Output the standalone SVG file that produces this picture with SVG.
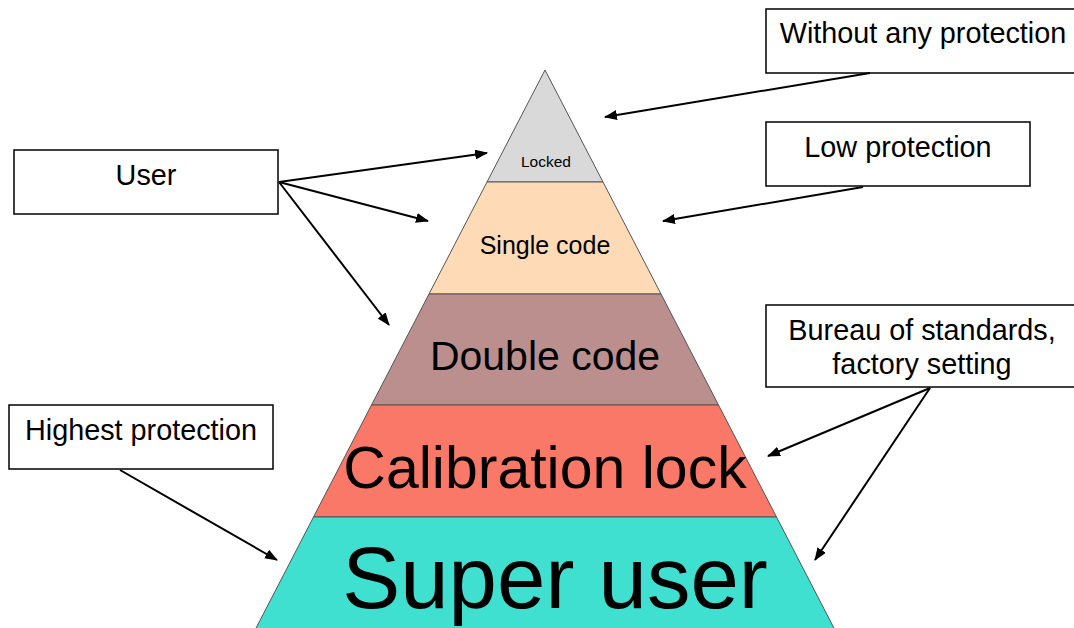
<svg xmlns="http://www.w3.org/2000/svg" width="1074" height="628" viewBox="0 0 1074 628">
<style>
.box{fill:#fff;stroke:#000;stroke-width:1.5}
.bt{font-family:"Liberation Sans",Arial,sans-serif;font-size:28.8px;fill:#000;text-anchor:middle}
.lay{stroke:#555;stroke-width:1}
.lt{font-family:"Liberation Sans",Arial,sans-serif;fill:#000;text-anchor:middle}
.con{stroke:#000;stroke-width:2;fill:none;marker-end:url(#ah)}
</style>
<defs>
<marker id="ah" markerUnits="userSpaceOnUse" markerWidth="13" markerHeight="10" refX="12" refY="5" orient="auto">
<path d="M0,0 L13,5 L0,10 z" fill="#000"/>
</marker>
</defs>
<rect width="1074" height="628" fill="#fff"/>
<g id="layer-locked"><polygon class="lay" points="545,70 603,182 487,182" fill="#d9d9d9"/><text class="lt" x="546" y="167" font-size="15.5">Locked</text></g>
<g id="layer-single"><polygon class="lay" points="487,182 603,182 661,294 429,294" fill="#fedab6"/><text class="lt" x="545" y="254" font-size="25">Single code</text></g>
<g id="layer-double"><polygon class="lay" points="429,294 661,294 718.5,405 371.5,405" fill="#bb8f8d"/><text class="lt" x="545" y="370" font-size="41">Double code</text></g>
<g id="layer-calib"><polygon class="lay" points="371.5,405 718.5,405 776.5,517 313.5,517" fill="#f97867"/><text class="lt" x="545" y="488" font-size="59">Calibration lock</text></g>
<g id="layer-super"><polygon class="lay" points="313.5,517 776.5,517 836,632 254,632" fill="#40e0d0"/><text class="lt" x="555" y="608" font-size="87">Super user</text></g>
<g id="box-without"><rect class="box" x="766" y="9" width="314" height="64"/><text class="bt" x="923" y="43">Without any protection</text></g>
<g id="box-low"><rect class="box" x="766" y="122" width="264" height="64"/><text class="bt" x="898" y="157">Low protection</text></g>
<g id="box-user"><rect class="box" x="14" y="150" width="264" height="64"/><text class="bt" x="146" y="185">User</text></g>
<g id="box-bureau"><rect class="box" x="766" y="305" width="314" height="82"/><text class="bt" x="922" y="340">Bureau of standards,</text><text class="bt" x="922" y="374">factory setting</text></g>
<g id="box-highest"><rect class="box" x="9" y="405" width="264" height="64"/><text class="bt" x="141" y="440">Highest protection</text></g>
<g id="connectors">
<line class="con" x1="870" y1="73" x2="605" y2="117"/>
<line class="con" x1="863" y1="187" x2="663" y2="221"/>
<line class="con" x1="279" y1="182" x2="487" y2="153"/>
<line class="con" x1="279" y1="182" x2="428" y2="221"/>
<line class="con" x1="279" y1="182" x2="389" y2="325"/>
<line class="con" x1="120" y1="470" x2="277" y2="560"/>
<line class="con" x1="930" y1="388" x2="768" y2="456"/>
<line class="con" x1="930" y1="388" x2="815" y2="560"/>
</g>
</svg>
